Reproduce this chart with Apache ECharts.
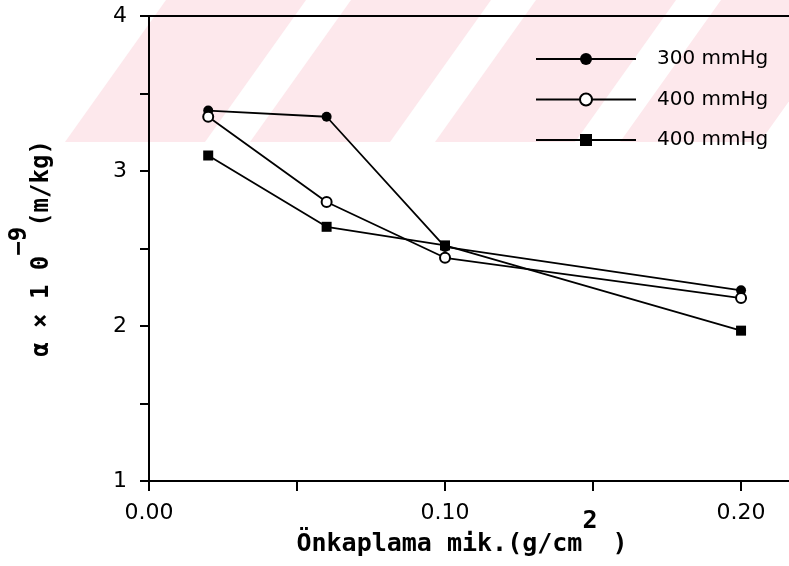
<!DOCTYPE html>
<html>
<head>
<meta charset="utf-8">
<script src="https://cdn.jsdelivr.net/npm/echarts@6/dist/echarts.min.js"></script>
<style>
  html, body { margin: 0; padding: 0; background: #fff; }
  #chart { width: 789px; height: 566px; }
</style>
</head>
<body>
<div id="chart"></div>
<script>
// Pre-coat amount (g/cm2) at which each resistance value was measured
const coatAmount = [0.02, 0.06, 0.10, 0.20];

// Specific cake resistance, alpha x 10^-9 (m/kg)
const alpha300 = [3.39, 3.35, 2.51, 2.23];
const alpha400Open = [3.35, 2.80, 2.44, 2.18];
const alpha400Square = [3.10, 2.64, 2.52, 1.97];

// Legend captions, one per series
const legendLabels = ['300 mmHg', '400 mmHg', '400 mmHg'];
const seriesKeys = ['p300', 'p400a', 'p400b'];

// Axis ticks and the ticks that carry a printed label
const xTicks = [0, 0.05, 0.10, 0.15, 0.20];
const xLabelled = [0, 0.10, 0.20];
const yTicks = [1, 1.5, 2, 2.5, 3, 3.5, 4];
const yLabelled = [1, 2, 3, 4];

const tickFont = "'DejaVu Sans', sans-serif";
const nameFont = "'DejaVu Sans Mono', 'Liberation Mono', monospace";

const chart = echarts.init(document.getElementById('chart'), null, { renderer: 'canvas' });

// Pale diagonal bands across the top strip of the page
const bandStarts = [65, 250, 435, 620, 805];
const bandGraphics = bandStarts.map(a => ({
  type: 'polygon',
  silent: true,
  z: -10,
  shape: { points: [[a, 142], [a + 140, 142], [a + 241, 0], [a + 101, 0]] },
  style: { fill: '#fde8ec' }
}));

function pairs(ys) {
  return ys.map((v, i) => [coatAmount[i], v]);
}

const lineStyle = { color: '#000', width: 1.8 };
const axisLineStyle = { color: '#000', width: 2 };

// rich styles: the base text is pushed down, the exponent is pushed up
const nameRich = (size, lift) => ({
  m: { fontFamily: nameFont, fontWeight: 'bold', fontSize: size, color: '#000', padding: [lift, 0, 0, 0] },
  s: { fontFamily: nameFont, fontWeight: 'bold', fontSize: size, color: '#000', padding: [0, 0, lift, 0] }
});

chart.setOption({
  animation: false,
  backgroundColor: '#fff',
  graphic: bandGraphics,
  grid: { left: 149, top: 16, bottom: 85, right: 0, show: false, outerBoundsMode: 'none', containLabel: false },
  legend: {
    left: 530, top: 44,
    orient: 'vertical',
    itemWidth: 100, itemHeight: 15, itemGap: 20.5,
    data: seriesKeys,
    formatter: name => legendLabels[seriesKeys.indexOf(name)],
    textStyle: { fontFamily: tickFont, fontSize: 20, color: '#000', lineHeight: 20, padding: [0, 0, 0, 16] }
  },
  xAxis: [
    {
      type: 'value',
      min: 0, max: 0.2162, interval: 0.05,
      name: '{m|Önkaplama mik.(g/cm}{s|2}{m| )}',
      nameLocation: 'middle',
      nameGap: 28,
      nameMoveOverlap: false,
      nameTextStyle: { padding: [0, 14, 0, 0], rich: nameRich(25, 23) },
      axisLine: { show: true, onZero: false, lineStyle: axisLineStyle },
      axisTick: { show: true, length: 10, customValues: xTicks, lineStyle: axisLineStyle },
      splitLine: { show: false },
      axisLabel: {
        margin: 21,
        customValues: xLabelled,
        fontFamily: tickFont, fontSize: 22, color: '#000',
        formatter: v => v.toFixed(2)
      }
    },
    {
      // plain frame line along the top of the plot
      type: 'value', position: 'top',
      min: 0, max: 0.2162,
      axisLine: { show: true, onZero: false, lineStyle: axisLineStyle },
      axisTick: { show: false }, axisLabel: { show: false }, splitLine: { show: false }
    }
  ],
  yAxis: {
    type: 'value',
    min: 1, max: 4, interval: 0.5,
    name: '{m|α × 1 0}{s|−9}{m|(m/kg)}',
    nameLocation: 'middle',
    nameGap: 95,
    nameRotate: 90,
    nameTextStyle: { rich: nameRich(24, 22) },
    axisLine: { show: true, onZero: false, lineStyle: axisLineStyle },
    axisTick: { show: true, length: 9, customValues: yTicks, lineStyle: axisLineStyle },
    splitLine: { show: false },
    axisLabel: {
      margin: 22,
      customValues: yLabelled,
      fontFamily: tickFont, fontSize: 22, color: '#000',
      formatter: v => String(v)
    }
  },
  series: [
    {
      name: seriesKeys[0], type: 'line', data: pairs(alpha300),
      symbol: 'circle', symbolSize: 10,
      itemStyle: { color: '#000' }, lineStyle: lineStyle, z: 3
    },
    {
      name: seriesKeys[1], type: 'line', data: pairs(alpha400Open),
      symbol: 'emptyCircle', symbolSize: 10,
      itemStyle: { color: '#000', borderWidth: 1.5 }, lineStyle: lineStyle, z: 4
    },
    {
      name: seriesKeys[2], type: 'line', data: pairs(alpha400Square),
      symbol: 'rect', symbolSize: 10,
      itemStyle: { color: '#000' }, lineStyle: lineStyle, z: 5
    }
  ]
});
</script>
</body>
</html>
